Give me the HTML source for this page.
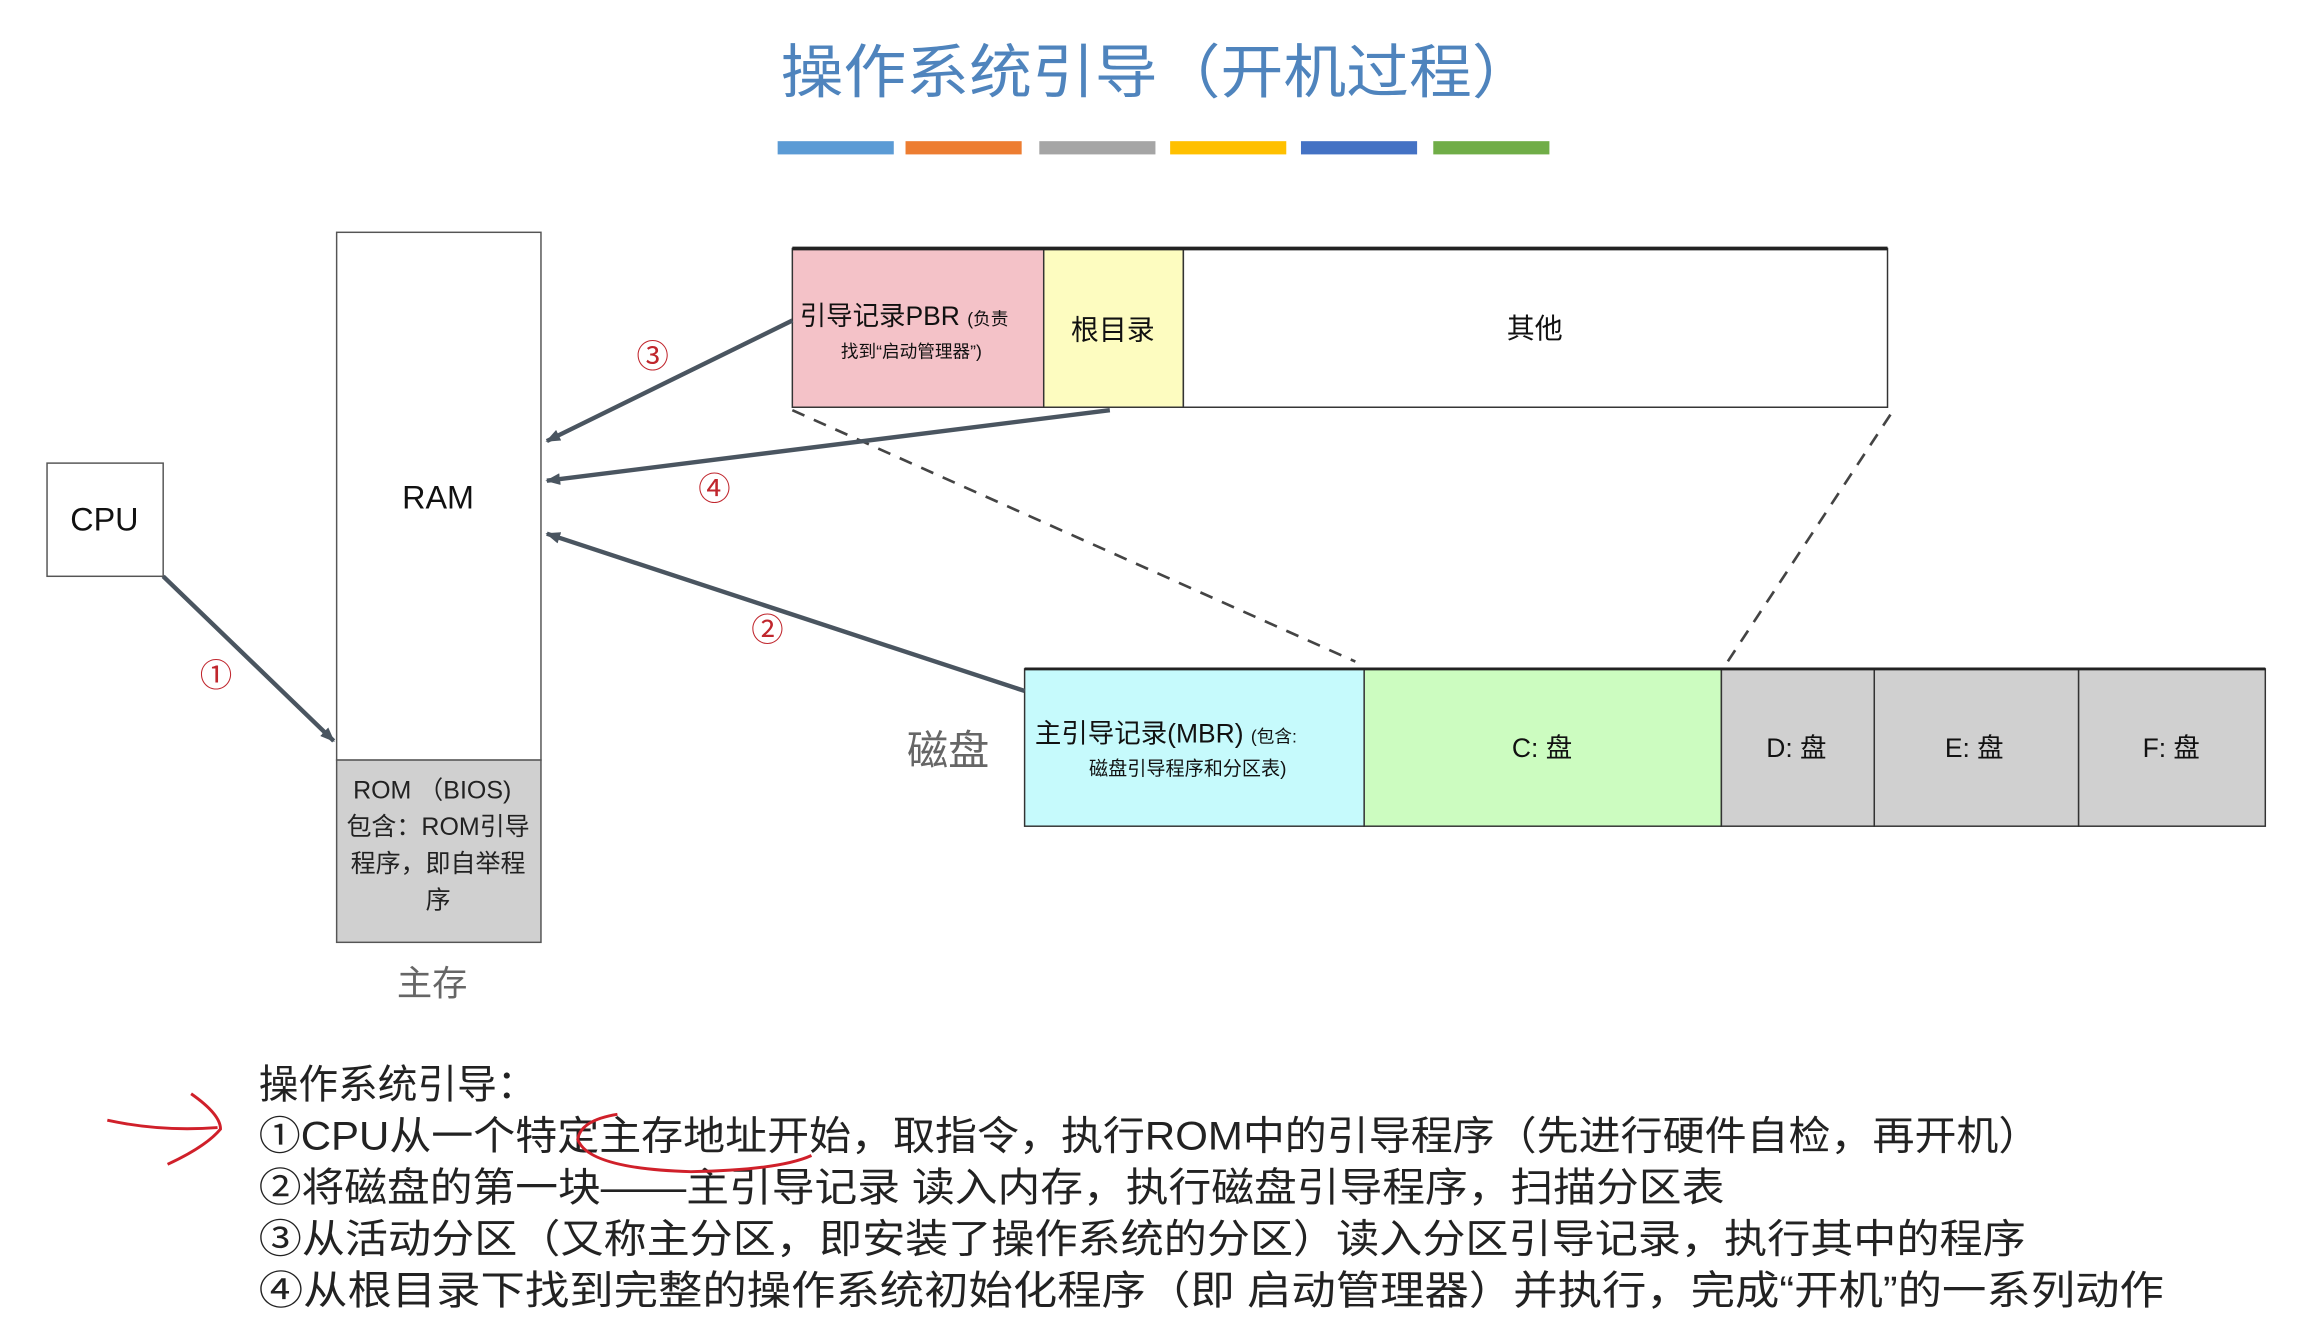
<!DOCTYPE html>
<html><head><meta charset="utf-8"><style>
html,body{margin:0;padding:0;background:#fff;}
svg{display:block;}
text{font-family:"Liberation Sans","Noto Sans CJK SC",sans-serif;}
</style></head><body>
<svg width="2305" height="1329" viewBox="0 0 1568 904" xmlns="http://www.w3.org/2000/svg">
<defs>
<marker id="ah" markerWidth="10" markerHeight="8" refX="9" refY="4" orient="auto" markerUnits="userSpaceOnUse">
<path d="M0,0 L10,4 L0,8 z" fill="#4a5560"/>
</marker>
</defs>
<rect width="1568" height="904" fill="#fff"/>
<text x="531" y="63" font-size="40" fill="#4f84bd" textLength="513" lengthAdjust="spacingAndGlyphs">操作系统引导（开机过程）</text>
<rect x="529" y="96" width="79" height="9" fill="#5b9bd5"/>
<rect x="616" y="96" width="79" height="9" fill="#ed7d31"/>
<rect x="707" y="96" width="79" height="9" fill="#a5a5a5"/>
<rect x="796" y="96" width="79" height="9" fill="#ffc000"/>
<rect x="885" y="96" width="79" height="9" fill="#4472c4"/>
<rect x="975" y="96" width="79" height="9" fill="#70ad47"/>

<rect x="32" y="315" width="79" height="77" fill="#fff" stroke="#555" stroke-width="1"/>
<text x="71" y="361" font-size="22" text-anchor="middle" fill="#111">CPU</text>

<rect x="229" y="158" width="139" height="359" fill="#fff" stroke="#555" stroke-width="1"/>
<text x="298" y="346" font-size="22" text-anchor="middle" fill="#111">RAM</text>
<rect x="229" y="517" width="139" height="124" fill="#d0d0d0" stroke="#555" stroke-width="1"/>
<g font-size="17" fill="#222" text-anchor="middle">
<text x="294" y="543">ROM （BIOS)</text>
<text x="298" y="568">包含：ROM引导</text>
<text x="298" y="593">程序，即自举程</text>
<text x="298" y="618">序</text>
</g>
<text x="294" y="677" font-size="24" fill="#666" text-anchor="middle">主存</text>

<rect x="539" y="169" width="171" height="108" fill="#f4c2c8" stroke="#333" stroke-width="1"/>
<rect x="710" y="169" width="95" height="108" fill="#fdfcc0" stroke="#333" stroke-width="1"/>
<rect x="805" y="169" width="479" height="108" fill="#fff" stroke="#333" stroke-width="1"/>
<line x1="539" y1="169" x2="1284" y2="169" stroke="#222" stroke-width="2.5"/>
<text x="544" y="221" font-size="18" fill="#111">引导记录PBR <tspan font-size="12">(负责</tspan></text>
<text x="620" y="243" font-size="12" fill="#111" text-anchor="middle">找到“启动管理器”)</text>
<text x="757" y="231" font-size="19" fill="#111" text-anchor="middle">根目录</text>
<text x="1044" y="230" font-size="19" fill="#111" text-anchor="middle">其他</text>

<rect x="697" y="455" width="231" height="107" fill="#c6fafc" stroke="#333" stroke-width="1"/>
<rect x="928" y="455" width="243" height="107" fill="#ccfcc0" stroke="#333" stroke-width="1"/>
<rect x="1171" y="455" width="104" height="107" fill="#d0d0d0" stroke="#333" stroke-width="1"/>
<rect x="1275" y="455" width="139" height="107" fill="#d0d0d0" stroke="#333" stroke-width="1"/>
<rect x="1414" y="455" width="127" height="107" fill="#d0d0d0" stroke="#333" stroke-width="1"/>
<line x1="697" y1="455" x2="1541" y2="455" stroke="#222" stroke-width="2"/>
<text x="704" y="505" font-size="18" fill="#111">主引导记录(MBR) <tspan font-size="12">(包含:</tspan></text>
<text x="808" y="527" font-size="13" fill="#111" text-anchor="middle">磁盘引导程序和分区表)</text>
<text x="1049" y="515" font-size="18" fill="#111" text-anchor="middle">C:  盘</text>
<text x="1222" y="515" font-size="18" fill="#111" text-anchor="middle">D:  盘</text>
<text x="1343" y="515" font-size="18" fill="#111" text-anchor="middle">E:  盘</text>
<text x="1477" y="515" font-size="18" fill="#111" text-anchor="middle">F:  盘</text>
<text x="645" y="520" font-size="28" fill="#666" text-anchor="middle">磁盘</text>

<line x1="539" y1="279" x2="922" y2="450" stroke="#444" stroke-width="1.8" stroke-dasharray="9,7"/>
<line x1="1286" y1="282" x2="1172" y2="455" stroke="#444" stroke-width="1.8" stroke-dasharray="9,7"/>

<g stroke="#4a5560" stroke-width="3" fill="none" marker-end="url(#ah)">
<line x1="111" y1="392" x2="227" y2="504"/>
<line x1="539" y1="218" x2="372" y2="300"/>
<line x1="755" y1="279" x2="372" y2="327"/>
<line x1="697" y1="470" x2="372" y2="363"/>
</g>
<g font-size="22" fill="#c0262d" text-anchor="middle">
<text x="147" y="467">①</text>
<text x="522" y="436">②</text>
<text x="444" y="250">③</text>
<text x="486" y="340">④</text>
</g>

<g font-size="27" fill="#222" lengthAdjust="spacingAndGlyphs">
<text x="176" y="747" textLength="189" lengthAdjust="spacingAndGlyphs">操作系统引导：</text>
<text x="176" y="782" textLength="1212" lengthAdjust="spacingAndGlyphs">①CPU从一个特定主存地址开始，取指令，执行ROM中的引导程序（先进行硬件自检，再开机）</text>
<text x="176" y="817" textLength="997" lengthAdjust="spacingAndGlyphs">②将磁盘的第一块——主引导记录 读入内存，执行磁盘引导程序，扫描分区表</text>
<text x="176" y="852" textLength="1202" lengthAdjust="spacingAndGlyphs">③从活动分区（又称主分区，即安装了操作系统的分区）读入分区引导记录，执行其中的程序</text>
<text x="176" y="887" textLength="1296" lengthAdjust="spacingAndGlyphs">④从根目录下找到完整的操作系统初始化程序（即 启动管理器）并执行，完成“开机”的一系列动作</text>
</g>
<g stroke="#d0202a" stroke-width="2" fill="none">
<path d="M73,762 Q110,770 148,767"/>
<path d="M130,744 Q150,758 150,768 Q140,780 114,792"/>
<path d="M420,758 Q395,762 393,775 Q400,795 470,797 Q530,796 552,786"/>
</g>
</svg>
</body></html>
